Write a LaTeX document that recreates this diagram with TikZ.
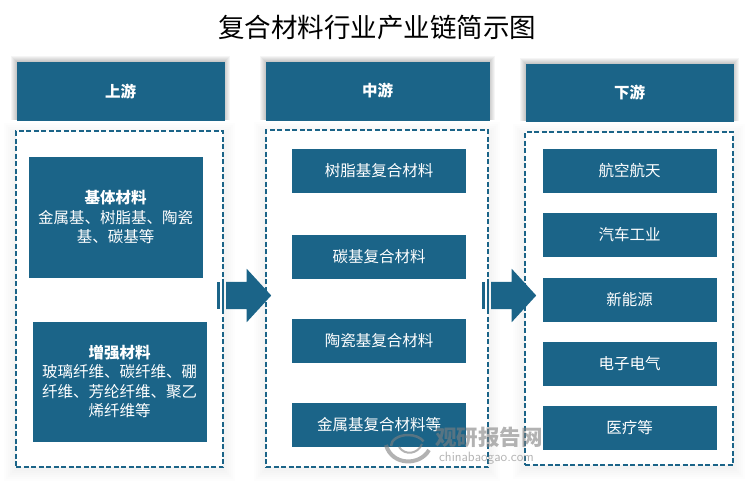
\documentclass[tikz,border=0pt]{standalone}
\usepackage{fontspec}
\setmainfont{Noto Sans CJK SC}
\usetikzlibrary{shapes.arrows}
\definecolor{chainblue}{HTML}{1B6488}
\tikzset{
  headbox/.style={draw=chainblue, fill=chainblue, rectangle, inner sep=0pt, text=white, font=\fontsize{15.5}{19.5}\selectfont, minimum height=43pt, minimum width=173pt, align=center},
  dashbox/.style={draw=chainblue, fill=white, rectangle, inner sep=0pt, line width=1.4pt, dash pattern=on 5pt off 2.5pt},
  flowarrow/.style={single arrow, fill=chainblue, inner xsep=0pt, inner ysep=13.5pt, minimum height=45pt, minimum width=53pt, single arrow head extend=13pt, single arrow tip angle=95, anchor=west},
  flowbar/.style={fill=chainblue, rectangle, inner sep=0pt, minimum width=2.5pt, minimum height=27pt},
  softedge/.style={fill=black}
}
\begin{document}
\begin{tikzpicture}[x=1pt,y=-1pt]
\useasboundingbox (0,0) rectangle (750,480);
\node[font=\fontsize{26.5}{30}\selectfont, inner sep=0pt] (title) at (377,27) {复合材料行业产业链简示图};
% soft edges
\foreach \a/\b/\c/\d in {17/62/224/120,266/62/489/120,526/64/733/121}
  \foreach \s in {1,...,6}
    \fill[softedge, opacity=0.04] (\a-\s,\b-\s) rectangle (\c+\s,\d);
\foreach \a/\b/\c/\d in {16/131/223/467,266/130/488/467,525/132/733/465}
  \foreach \s in {2,4,...,12}
    \fill[softedge, opacity=0.006] (\a-\s,\b-\s+4) rectangle (\c+\s,\d+\s+2);
% upstream
\node[headbox, minimum width=207pt, minimum height=58pt] (up) at (120.5,91) {\textbf{上游}};
\node[dashbox, minimum width=207pt, minimum height=336pt] (upframe) at (119.5,299) {};
\node[headbox, minimum height=120pt] (base) at (115.5,217) {\textbf{基体材料}\\金属基、树脂基、陶瓷\\基、碳基等};
\node[headbox, minimum height=119pt] (fibre) at (119.5,381.5) {\textbf{增强材料}\\玻璃纤维、碳纤维、硼\\纤维、芳纶纤维、聚乙\\烯纤维等};
% midstream
\node[headbox, minimum width=223pt, minimum height=58pt] (mid) at (377.5,91) {\textbf{中游}};
\node[dashbox, minimum width=222pt, minimum height=337pt] (midframe) at (377,298.5) {};
\node[headbox] (mid1) at (379,171) {树脂基复合材料};
\node[headbox] (mid2) at (379,256.5) {碳基复合材料};
\node[headbox] (mid3) at (379,340.5) {陶瓷基复合材料};
\node[headbox] (mid4) at (379,424.5) {金属基复合材料等};
% downstream
\node[headbox, minimum width=207pt, minimum height=57pt] (down) at (629.5,92.5) {\textbf{下游}};
\node[dashbox, minimum width=208pt, minimum height=333pt] (downframe) at (629,298.5) {};
\node[headbox] (down1) at (629.5,170.5) {航空航天};
\node[headbox] (down2) at (629.5,235) {汽车工业};
\node[headbox] (down3) at (629.5,299.5) {新能源};
\node[headbox] (down4) at (629.5,364) {电子电气};
\node[headbox] (down5) at (629.5,428) {医疗等};
% arrows
\node[flowbar] (bar1) at (218.5,295.5) {};
\node[flowbar] (bar2) at (223,295.5) {};
\node[flowarrow] (arrow1) at (226,295.5) {};
\node[flowbar] (bar3) at (483.5,295.5) {};
\node[flowbar] (bar4) at (488,295.5) {};
\node[flowarrow] (arrow2) at (491,295.5) {};
% watermark
\begin{scope}[gray, opacity=0.6]
\draw[line width=2.5pt] (391,446) arc[start angle=180, end angle=25, x radius=17pt, y radius=11pt];
\draw[line width=4pt] (386,445) .. controls (392,466) and (420,466) .. (429,450);
\draw[line width=2pt] (399,447) .. controls (405,456) and (418,454) .. (422,444);
\node[font=\fontsize{21.5}{24}\bfseries\selectfont, inner sep=0pt] (mark) at (489,437.5) {观研报告网};
\node[font=\sffamily\fontsize{13.5}{15}\selectfont, inner sep=0pt] (site) at (486.5,458) {chinabaogao.com};
\end{scope}
\end{tikzpicture}
\end{document}
